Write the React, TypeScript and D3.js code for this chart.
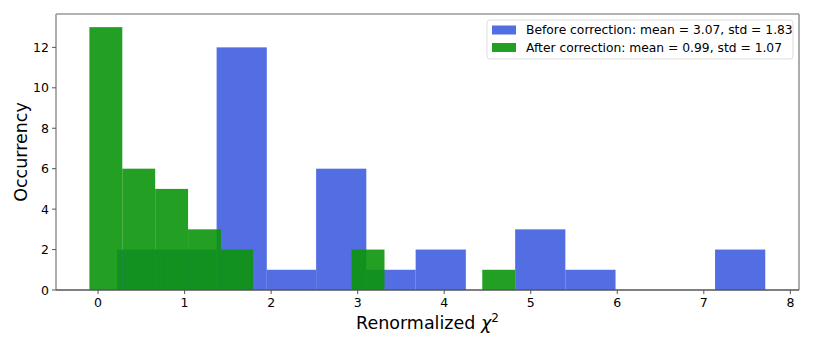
import React from "react";
import * as d3 from "d3";

const blueEdges = [0.22, 0.8, 1.37, 1.95, 2.52, 3.1, 3.67, 4.25, 4.82, 5.4, 5.98, 6.55, 7.13, 7.71];
const blueCounts = [2, 2, 12, 1, 6, 1, 2, 0, 3, 1, 0, 0, 2];
const greenEdges = [-0.1, 0.28, 0.66, 1.04, 1.42, 1.79, 2.17, 2.55, 2.93, 3.31, 3.68, 4.06, 4.44, 4.82];
const greenCounts = [13, 6, 5, 3, 2, 0, 0, 0, 2, 0, 0, 0, 1];
const xTicks = [0, 1, 2, 3, 4, 5, 6, 7, 8];
const yTicks = [0, 2, 4, 6, 8, 10, 12];
const legendLabels = [
  "Before correction: mean = 3.07, std = 1.83",
  "After correction: mean = 0.99, std = 1.07",
];

const W = 813, H = 349;
const L = 56, R = 799, T = 14, B = 290;
const FONT = "DejaVu Sans, sans-serif";
const BLUE = "rgb(64,94,224)";
const GREEN = "rgb(11,149,11)";

export default function App() {
  const x = d3.scaleLinear().domain([-0.486, 8.1]).range([L, R]);
  const y = d3.scaleLinear().domain([0, 13.65]).range([B, T]);

  const bars = (edges: number[], counts: number[], color: string, key: string) =>
    counts.map((c, i) =>
      c > 0 ? (
        <rect
          key={key + i}
          x={x(edges[i])}
          y={y(c)}
          width={x(edges[i + 1]) - x(edges[i])}
          height={y(0) - y(c)}
          fill={color}
          fillOpacity={0.9}
        />
      ) : null
    );

  return (
    <svg width={W} height={H} style={{ position: "absolute", left: 0, top: 0 }} fontFamily={FONT}>
      <rect x={0} y={0} width={W} height={H} fill="white" />
      {bars(blueEdges, blueCounts, BLUE, "b")}
      {bars(greenEdges, greenCounts, GREEN, "g")}
      {/* spines */}
      <line x1={L} x2={L} y1={T} y2={B} stroke="#999" strokeWidth={1.6} />
      <line x1={R} x2={R} y1={T} y2={B} stroke="#999" strokeWidth={1.6} />
      <line x1={L} x2={R} y1={T} y2={T} stroke="#999" strokeWidth={1.6} />
      <line x1={L} x2={R} y1={B} y2={B} stroke="#555" strokeWidth={1.4} />
      {xTicks.map((t) => (
        <g key={"xt" + t} transform={`translate(${x(t)},${B})`}>
          <line y1={0} y2={4} stroke="#555" strokeWidth={1} />
          <text y={17} textAnchor="middle" fontSize={12.5} fill="#000">
            {t}
          </text>
        </g>
      ))}
      {yTicks.map((t) => (
        <g key={"yt" + t} transform={`translate(${L},${y(t)})`}>
          <line x1={-4} x2={0} stroke="#555" strokeWidth={1} />
          <text x={-7} dy="0.36em" textAnchor="end" fontSize={12.5} fill="#000">
            {t}
          </text>
        </g>
      ))}
      <text x={(L + R) / 2} y={329} textAnchor="middle" fontSize={17.5} fill="#000">
        Renormalized <tspan fontStyle="italic">χ</tspan>
        <tspan fontSize={12} dy={-7}>2</tspan>
      </text>
      <text
        transform={`translate(27,${(T + B) / 2}) rotate(-90)`}
        textAnchor="middle"
        fontSize={17.5}
        fill="#000"
      >
        Occurrency
      </text>
      {/* legend */}
      <rect x={487} y={20} width={306} height={39} rx={3} fill="white" fillOpacity={0.8} stroke="#ddd" />
      {legendLabels.map((lab, i) => (
        <g key={"lg" + i} transform={`translate(492,${30 + i * 17.5})`}>
          <rect x={0} y={-4.5} width={24} height={9} fill={i === 0 ? BLUE : GREEN} fillOpacity={0.9} />
          <text x={34} dy="0.36em" fontSize={12.3} fill="#000">
            {lab}
          </text>
        </g>
      ))}
    </svg>
  );
}
